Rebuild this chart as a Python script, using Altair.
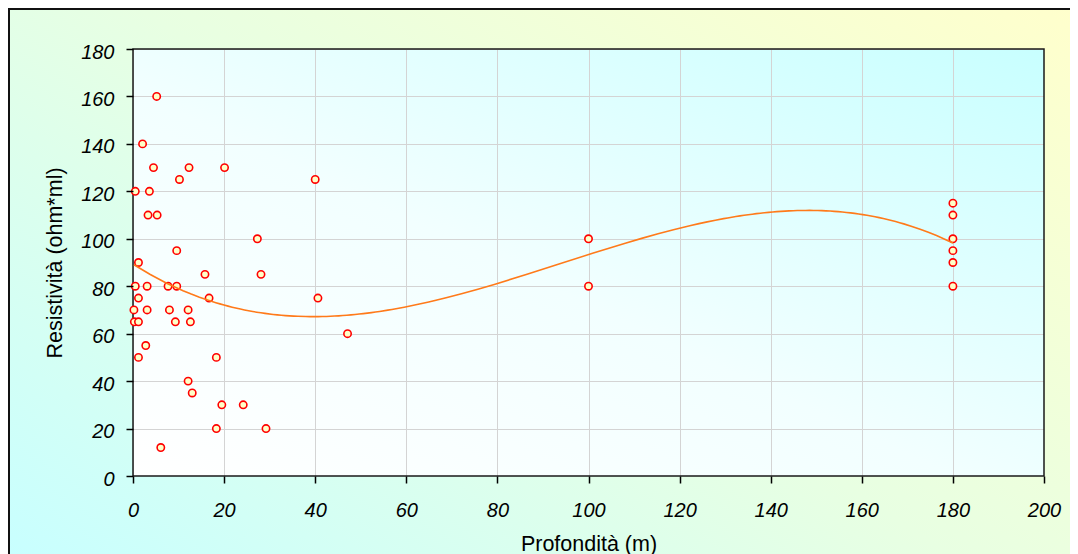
import altair as alt
import pandas as pd

# Data
depth = [0.5, 3.6, 2.1, 5.2, 4.5, 12.3, 20.1, 10.2, 40.0, 3.3, 5.3, 27.3, 9.6, 1.2, 15.8, 28.1,
         0.5, 3.1, 7.7, 9.6, 1.2, 16.7, 40.6, 0.2, 3.1, 8.0, 12.1, 0.3, 1.2, 9.3, 12.6, 47.1,
         2.8, 1.2, 18.3, 12.1, 13.0, 19.5, 24.2, 18.3, 29.2, 6.1, 100, 100,
         180, 180, 180, 180, 180, 180]
resist = [120, 120, 140, 160, 130, 130, 130, 125, 125, 110, 110, 100, 95, 90, 85, 85,
          80, 80, 80, 80, 75, 75, 75, 70, 70, 70, 70, 65, 65, 65, 65, 60,
          55, 50, 50, 40, 35, 30, 30, 20, 20, 12, 100, 80,
          115, 110, 100, 95, 90, 80]
x_ticks = [0, 20, 40, 60, 80, 100, 120, 140, 160, 180, 200]
y_ticks = [0, 20, 40, 60, 80, 100, 120, 140, 160, 180]

df = pd.DataFrame({"depth": depth, "resist": resist})
one = pd.DataFrame({"k": [0]})

W, H = 911, 427
FONT = "Liberation Sans"

xscale = alt.Scale(domain=[0, 200], nice=False, zero=False)
yscale = alt.Scale(domain=[0, 180], nice=False, zero=False)

# Outer gradient frame (drawn as a wide stroke around the plot area)
outer_grad = alt.LinearGradient(
    gradient="linear",
    stops=[alt.GradientStop(color="#c8ffff", offset=0),
           alt.GradientStop(color="#e8ffe2", offset=0.5),
           alt.GradientStop(color="#ffffcc", offset=1)],
    x1=0.004, y1=0.924, x2=0.918, y2=0.13,
)
frame = alt.Chart(one).mark_rect(fill="transparent", stroke=outer_grad, strokeWidth=260).encode(
    x=alt.value(-130), x2=alt.value(W + 130), y=alt.value(-130), y2=alt.value(H + 130)
)
outer_border = alt.Chart(one).mark_rect(fill="transparent", stroke="#111111", strokeWidth=2).encode(
    x=alt.value(-124), x2=alt.value(W + 200), y=alt.value(-40), y2=alt.value(H + 200)
)
plot_border = alt.Chart(one).mark_rect(fill="transparent", stroke="#1a1a1a", strokeWidth=1.5).encode(
    x=alt.value(0), x2=alt.value(W), y=alt.value(0), y2=alt.value(H)
)

grid_x = alt.Axis(values=x_ticks, grid=True, gridColor="#d4d4d4", gridWidth=1, domain=False,
                  ticks=False, labels=False, title=None, zindex=0, orient="bottom")
grid_y = alt.Axis(values=y_ticks, grid=True, gridColor="#d4d4d4", gridWidth=1, domain=False,
                  ticks=False, labels=False, title=None, zindex=0, orient="left")

points = alt.Chart(df).mark_point(
    shape="circle", filled=False, fill="#ffffc8", fillOpacity=1, stroke="#ff0000",
    strokeWidth=1.6, size=54, opacity=1
).encode(
    x=alt.X("depth:Q", scale=xscale, axis=grid_x),
    y=alt.Y("resist:Q", scale=yscale, axis=grid_y),
)

lab_x = alt.Axis(values=x_ticks, grid=False, domain=False, ticks=True, tickColor="black",
                 tickWidth=1.5, tickSize=7, labelFont=FONT, labelFontSize=20,
                 labelFontStyle="italic", labelColor="black", labelPadding=17,
                 labelFlush=False, labelOverlap=False,
                 title="Profondità (m)", titleFont=FONT, titleFontSize=21.5,
                 titleFontWeight="normal", titleColor="black", titleX=W / 2, titleY=74,
                 titleBaseline="alphabetic", titleAlign="center", zindex=1, orient="bottom")
lab_y = alt.Axis(values=y_ticks, grid=False, domain=False, ticks=True, tickColor="black",
                 tickWidth=1.5, tickSize=7, labelFont=FONT, labelFontSize=20,
                 labelFontStyle="italic", labelColor="black", labelPadding=12,
                 labelOffset=3, labelFlush=False, labelOverlap=False,
                 title="Resistività (ohm*ml)", titleFont=FONT, titleFontSize=21.5,
                 titleFontWeight="normal", titleColor="black", titleX=-72, titleY=H / 2,
                 titleBaseline="alphabetic", titleAlign="center", titleAngle=270,
                 zindex=1, orient="left")

trend = alt.Chart(df).transform_regression(
    "depth", "resist", method="poly", order=3
).mark_line(color="#ff7a1a", strokeWidth=1.6).encode(
    x=alt.X("depth:Q", scale=xscale, axis=lab_x),
    y=alt.Y("resist:Q", scale=yscale, axis=lab_y),
)

plot_fill = ("{gradient: 'linear', x1: 0, y1: 1, x2: 1, y2: 0, "
             "stops: [{offset: 0, color: '#ffffff'}, {offset: 0.45, color: '#f2ffff'}, "
             "{offset: 1, color: '#c8ffff'}]}")

chart = alt.layer(frame, outer_border, plot_border, points, trend).resolve_axis(
    x="independent", y="independent"
).properties(
    width=W, height=H,
    autosize=alt.AutoSizeParams(type="none"),
    padding={"left": 125, "top": 41, "right": 26, "bottom": 78},
    background="white",
    view=alt.ViewBackground(fill={"expr": plot_fill}, strokeWidth=0),
)

chart.save("out.html", embed_options={"renderer": "svg", "actions": False})
